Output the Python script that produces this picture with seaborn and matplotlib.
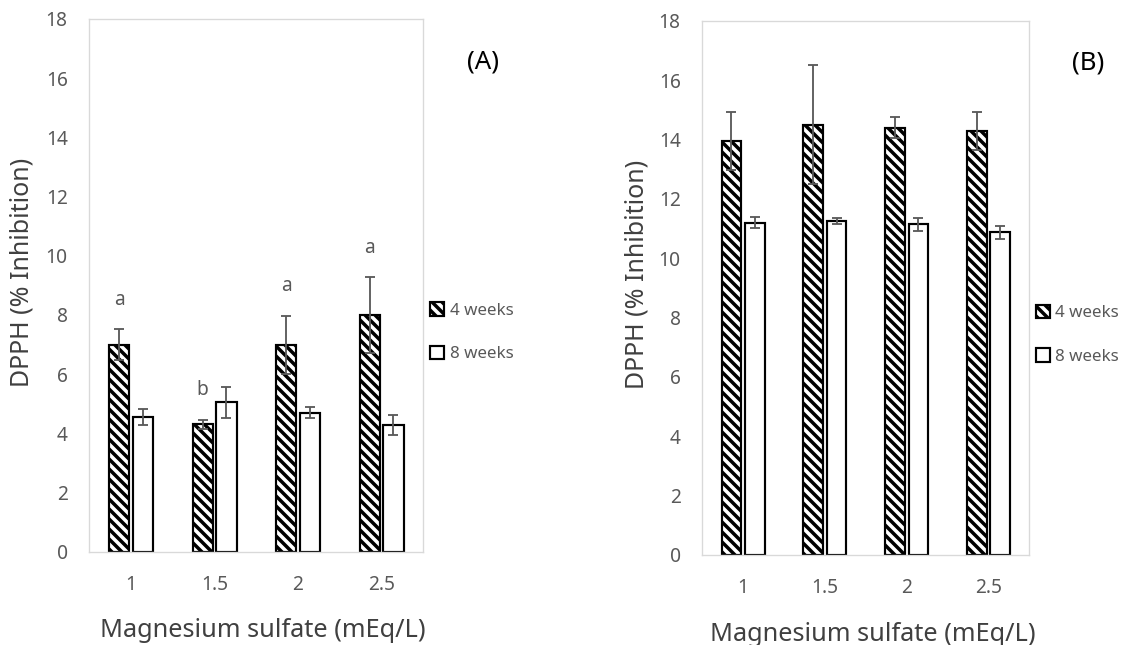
import numpy as np
import pandas as pd
import matplotlib
matplotlib.use("Agg")
import matplotlib.pyplot as plt
import seaborn as sns
from matplotlib.patches import Patch

# data
doses = ["1", "1.5", "2", "2.5"]
weeks = ["4 weeks", "8 weeks"]

a_4w = [7.0, 4.3, 7.0, 8.0]
a_4w_err = [0.52, 0.16, 0.98, 1.27]
a_8w = [4.55, 5.05, 4.7, 4.28]
a_8w_err = [0.26, 0.53, 0.19, 0.33]
a_letters = ["a", "b", "a", "a"]

b_4w = [13.95, 14.5, 14.4, 14.28]
b_4w_err = [0.97, 2.0, 0.35, 0.65]
b_8w = [11.2, 11.25, 11.14, 10.88]
b_8w_err = [0.19, 0.11, 0.22, 0.22]

sns.set_theme(style="white")
plt.rcParams["font.family"] = ["Noto Sans", "DejaVu Sans"]
plt.rcParams["hatch.linewidth"] = 2.1

GREY = "#595959"
HATCH = "\\" * 4

fig = plt.figure(figsize=(1121 / 120, 645 / 120), dpi=120)
ax_a = fig.add_axes([89.3 / 1121, (645 - 551.7) / 645, 334 / 1121, 532.7 / 645])
ax_b = fig.add_axes([702.3 / 1121, (645 - 555) / 645, 327 / 1121, 534.3 / 645])


def panel(ax, v4, e4, v8, e8, tag, letters=None):
    df = pd.DataFrame({
        "dose": doses * 2,
        "week": [weeks[0]] * 4 + [weeks[1]] * 4,
        "value": v4 + v8,
    })
    sns.barplot(data=df, x="dose", y="value", hue="week", order=doses,
                hue_order=weeks, palette=["white", "white"], edgecolor="black",
                linewidth=1.3, width=0.572, gap=0.16, errorbar=None,
                legend=False, ax=ax)
    for bar in ax.containers[0]:
        bar.set_hatch(HATCH)

    for cont, vals, errs in zip(ax.containers, [v4, v8], [e4, e8]):
        xs = [b.get_x() + b.get_width() / 2 for b in cont]
        ax.errorbar(xs, vals, yerr=errs, fmt="none", ecolor=GREY,
                    elinewidth=1.1, capsize=3.2, capthick=1.1, zorder=5)

    if letters:
        xs = [b.get_x() + b.get_width() / 2 for b in ax.containers[0]]
        for x, v, e, t in zip(xs, v4, e4, letters):
            ax.text(x, v + e + 1.0, t, ha="center", va="center",
                    fontsize=11.5, color=GREY)

    ax.set_ylim(0, 18)
    ax.set_xlim(-0.5, 3.5)
    ax.set_yticks(np.arange(0, 19, 2))
    ax.tick_params(axis="both", length=0, labelsize=11.5, labelcolor=GREY)
    ax.tick_params(axis="y", pad=13)
    ax.tick_params(axis="x", pad=14)
    for s in ax.spines.values():
        s.set_visible(True)
        s.set_color("#d9d9d9")
        s.set_linewidth(0.8)

    ax.set_xlabel("Magnesium sulfate (mEq/L)", fontsize=15.2, color="#404040")
    ax.xaxis.set_label_coords(0.52, -0.148)
    ax.xaxis.label.set_va("center")
    ax.set_ylabel("DPPH (% Inhibition)", fontsize=15, color="#404040")
    ax.yaxis.set_label_coords(-0.2, 0.525)
    ax.yaxis.label.set_va("center")

    ax.text(1.18, 0.92, tag, transform=ax.transAxes, ha="center",
            va="center", fontsize=15.5, color="black")

    handles = [Patch(facecolor="white", edgecolor="black", hatch=HATCH, linewidth=1.3),
               Patch(facecolor="white", edgecolor="black", linewidth=1.3)]
    ax.legend(handles, weeks, loc="center left", bbox_to_anchor=(1.02, 0.412),
              frameon=False, borderpad=0, borderaxespad=0, fontsize=10.2,
              labelcolor=GREY, handlelength=0.85, handleheight=0.85,
              handletextpad=0.3, labelspacing=1.6)


panel(ax_a, a_4w, a_4w_err, a_8w, a_8w_err, "(A)", a_letters)
panel(ax_b, b_4w, b_4w_err, b_8w, b_8w_err, "(B)")

fig.savefig("out.png", dpi=120, facecolor="white")
